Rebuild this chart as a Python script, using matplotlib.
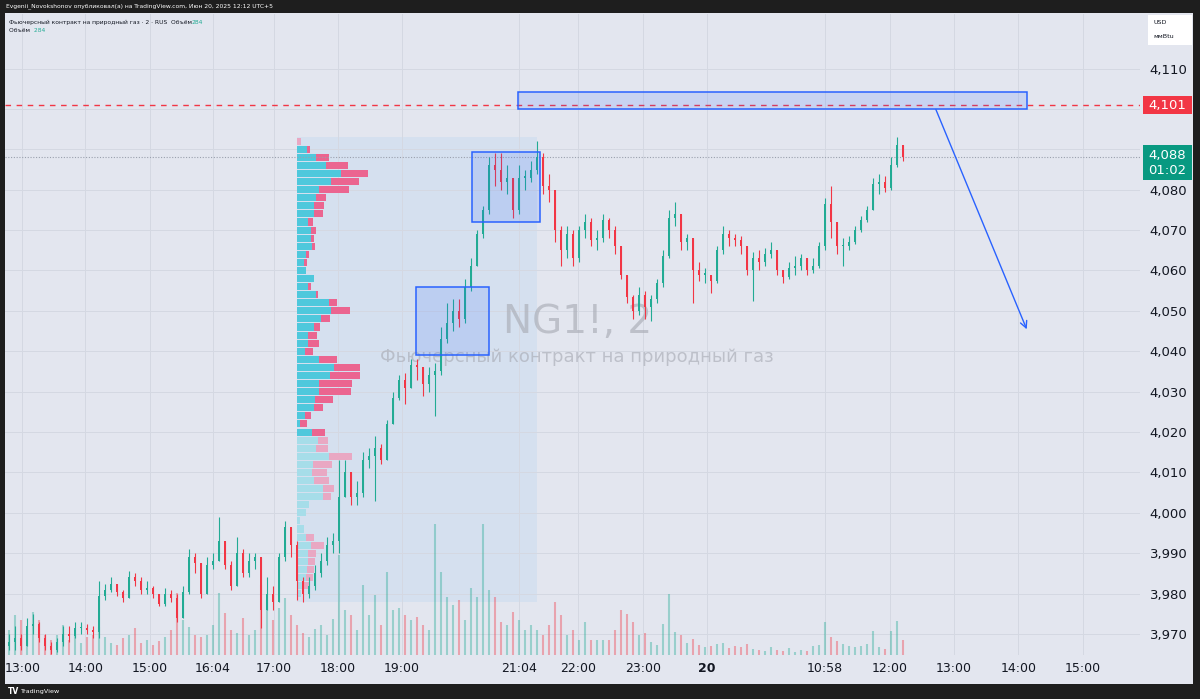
import numpy as np
import matplotlib
matplotlib.use('Agg')
import matplotlib.pyplot as plt
from matplotlib.patches import Rectangle, FancyArrowPatch

# 6-minute candles (open = previous close)
first_open = 3967
closes = [3968, 3969, 3967, 3972, 3972.5, 3969, 3967, 3966, 3968, 3970,
          3969.5, 3971.5, 3971.5, 3971, 3970.5, 3979.5, 3981, 3982.5, 3980.5, 3979,
          3984, 3983, 3981, 3981.5, 3980, 3977.5, 3980, 3979, 3974, 3980.5,
          3989, 3987.5, 3980, 3987, 3988, 3993, 3987, 3982, 3990, 3985,
          3988, 3989, 3976, 3980, 3978, 3989, 3996.5, 3992, 3983, 3980,
          3982, 3985, 3988, 3992, 3993, 4004, 4010, 4004, 4005, 4013,
          4014, 4016, 4013, 4022, 4028.5, 4033, 4031, 4036.5, 4036, 4032,
          4034, 4035, 4043, 4047, 4050, 4048, 4056, 4061, 4069, 4075,
          4086, 4085, 4082, 4083, 4075, 4083, 4083, 4085, 4088, 4081,
          4080, 4070, 4065, 4069, 4063, 4070, 4072, 4067.5, 4068, 4072.5,
          4070, 4066, 4059, 4053.5, 4050, 4054, 4051, 4053, 4057, 4063.5,
          4073, 4074, 4067, 4068, 4060, 4059, 4059, 4057.5, 4065, 4069,
          4068, 4067.5, 4066, 4060, 4063, 4062, 4064, 4065, 4060, 4058.5,
          4060.5, 4061, 4063, 4060, 4061, 4066, 4076.5, 4072, 4066, 4066,
          4067, 4070, 4072.5, 4075, 4081.5, 4082, 4080.5, 4086, 4091, 4088]
highs = [3970, 3972, 3970, 3974, 3975, 3973, 3970, 3968, 3969, 3972,
         3972, 3973, 3973, 3972.5, 3972, 3983, 3982.5, 3984, 3982.5, 3981,
         3985.5, 3985, 3984, 3983, 3982, 3980, 3981.5, 3981, 3980, 3982,
         3991, 3990, 3987, 3989, 3990, 3999, 3993, 3988, 3994, 3991,
         3990, 3990, 3989, 3984, 3982, 3990, 3998, 3996, 3993, 3984,
         3984, 3987, 3990, 3994, 3995, 4013, 4013, 4010, 4008, 4015,
         4016, 4019, 4017, 4023, 4030, 4034, 4034.5, 4038, 4038, 4036,
         4036, 4037, 4046, 4052, 4053, 4053, 4058, 4063, 4070, 4076,
         4088, 4089, 4089, 4086, 4083, 4086, 4085, 4087, 4092, 4089,
         4084, 4080, 4071, 4071, 4070, 4071, 4074, 4073, 4070, 4074,
         4073, 4071, 4066, 4059, 4054, 4056, 4055, 4054, 4058, 4065,
         4075, 4077, 4074, 4069, 4067, 4062, 4060.5, 4059, 4066, 4071,
         4070, 4069, 4068.5, 4066, 4064.5, 4065, 4065.5, 4067, 4065, 4060,
         4062, 4063.5, 4064, 4063, 4063, 4067, 4078, 4081, 4072, 4068,
         4068.5, 4071, 4073.5, 4076, 4083, 4084, 4083.5, 4088, 4093, 4091]
lows = [3966, 3966, 3966, 3967, 3970, 3968, 3966, 3965, 3965.5, 3967,
        3968, 3969, 3970, 3970, 3969, 3969, 3978.5, 3980.5, 3979.5, 3978,
        3979, 3982, 3980, 3980, 3979, 3977, 3977, 3978, 3973, 3974,
        3980, 3985, 3979, 3980, 3986, 3988, 3986, 3981, 3982, 3984,
        3984, 3986, 3971.5, 3976, 3976, 3978, 3988, 3989, 3978.5, 3978,
        3979, 3981, 3984, 3987, 3990, 3990, 4005, 4002, 4002, 4004,
        4011, 4003, 4012, 4013, 4022, 4028, 4027, 4031, 4033, 4029,
        4030, 4024, 4034, 4042, 4045, 4046, 4047, 4055, 4061, 4068,
        4074, 4081, 4080, 4079, 4073, 4074, 4080, 4082, 4084, 4079,
        4077, 4067, 4061, 4063, 4061, 4062, 4068, 4066, 4065, 4067,
        4068, 4064, 4058, 4052, 4048, 4049, 4048, 4047.5, 4052, 4056,
        4063, 4071, 4065, 4065, 4052, 4057.5, 4057, 4054.5, 4057, 4064,
        4066, 4066, 4064, 4059, 4052.5, 4060, 4061, 4063, 4059, 4057,
        4058, 4059, 4060, 4059, 4059.5, 4060.5, 4065, 4068, 4064, 4061,
        4065, 4066.5, 4069.5, 4072, 4075, 4079, 4079.5, 4080, 4085.5, 4087]
volumes = [25, 40, 35, 25, 43, 35, 20, 15, 20, 30,
           15, 20, 12, 18, 20, 28, 18, 12, 10, 17,
           20, 27, 12, 15, 10, 14, 18, 25, 62, 35,
           28, 20, 18, 20, 30, 62, 42, 25, 22, 37,
           20, 25, 70, 55, 35, 47, 57, 40, 30, 22,
           18, 26, 30, 20, 36, 100, 45, 40, 25, 70,
           40, 60, 30, 83, 45, 47, 40, 35, 38, 30,
           25, 131, 83, 58, 50, 55, 35, 67, 58, 131,
           65, 58, 33, 30, 43, 35, 25, 30, 25, 20,
           30, 53, 40, 20, 25, 15, 33, 15, 15, 15,
           15, 25, 45, 41, 33, 20, 22, 13, 10, 31,
           61, 23, 20, 12, 16, 10, 8, 9, 11, 12,
           7, 9, 8, 11, 6, 5, 4, 8, 5, 4,
           7, 3, 5, 4, 9, 10, 33, 18, 14, 11,
           9, 8, 9, 11, 24, 8, 6, 24, 34, 15]

# fixed range volume profile, rows of 2 points, listed from top (4092) to bottom (3980)
profile_up = [0, 10, 19, 29, 44, 34, 22, 19, 17, 17, 11, 14, 14, 15, 9, 7, 9, 17, 11, 19, 32, 34, 24,
              17, 11, 11, 8, 22, 37, 33, 22, 22, 18, 17, 8, 3, 15,
              21, 19, 32, 16, 15, 17, 26, 26, 12, 9, 3, 7, 9, 14, 11, 11, 10, 9, 7, 4]
profile_down = [4, 3, 13, 22, 27, 28, 30, 10, 10, 9, 5, 5, 3, 3, 3, 3, 0, 0, 3, 2, 8, 19, 9,
                6, 9, 11, 8, 18, 26, 30, 33, 32, 18, 9, 6, 7, 13,
                10, 12, 23, 19, 15, 15, 11, 8, 0, 0, 0, 0, 8, 13, 8, 7, 7, 7, 6, 0]
profile_top = 4092
profile_step = 2
value_area = (4020, 4090)
profile_bars = (48, 88)

# time axis labels (candle index positions)
tick_pos = [2.2, 12.7, 23.5, 34, 44.2, 54.8, 65.5, 85, 94.8, 105.7, 116.3, 136, 146.8, 157.5, 168.2, 179]
tick_labels = ['13:00', '14:00', '15:00', '16:04', '17:00', '18:00', '19:00', '21:04', '22:00',
               '23:00', '20', '10:58', '12:00', '13:00', '14:00', '15:00']
price_ticks = list(range(3970, 4111, 10))

# drawings on the chart
zones = [(67.8, 80.0, 4039.1, 4055.9), (77.2, 88.5, 4072.0, 4089.3), (84.8, 169.7, 4100.1, 4104.2)]
arrow = ((154.3, 4100.5), (169.8, 4044.8))
resistance = 4101
last_price = 4088

BG = '#e3e6ef'
DARK = '#1e1e1e'
UP = '#22ab94'
DOWN = '#f23645'
BLUE = '#2962ff'

W, H = 1200, 699
fig = plt.figure(figsize=(12, 6.99), dpi=100, facecolor=BG)

def fx(x):
    return x / W

def fy(y):
    return 1 - y / H

ax = fig.add_axes([fx(5), fy(655), fx(1135), 641 / H])
ax.set_facecolor(BG)

n = len(closes)
idx = np.arange(n)
opens = np.array([first_open] + closes[:-1], dtype=float)
c = np.array(closes, dtype=float)
hi = np.maximum(np.array(highs, dtype=float), np.maximum(opens, c))
lo = np.minimum(np.array(lows, dtype=float), np.minimum(opens, c))
up = c >= opens
cols = np.where(up, UP, DOWN)

# volume histogram at the bottom
vol = np.array(volumes, dtype=float)
vol_top = vol.max() / 0.205
ax.vlines(idx, 0, vol / vol_top, transform=ax.get_xaxis_transform(),
          colors=cols, alpha=0.38, linewidth=1.5, zorder=1)

# profile range shading and histogram
ax.add_patch(Rectangle((profile_bars[0], 3978), profile_bars[1] - profile_bars[0], 4093 - 3978,
                       facecolor=(0.13, 0.59, 0.95, 0.07), edgecolor='none', zorder=0.5))
levels = profile_top - profile_step * np.arange(len(profile_up))
pu = np.array(profile_up, dtype=float)
pd_ = np.array(profile_down, dtype=float)
scale = 11.8 / (pu + pd_).max()
in_va = (levels >= value_area[0]) & (levels <= value_area[1])
up_col = np.where(in_va, '#4fc8dc', '#a6dde9')
dn_col = np.where(in_va, '#eb6590', '#e9a8c3')
ax.barh(levels, pu * scale, left=profile_bars[0], height=1.75, color=up_col, zorder=2)
ax.barh(levels, pd_ * scale, left=profile_bars[0] + pu * scale, height=1.75, color=dn_col, zorder=2)

# watermark
ax.text(94.7, 4047.2, 'NG1!, 2', fontsize=28, color='#a9acb6', alpha=0.65,
        ha='center', va='center', zorder=0.6)
ax.text(94.7, 4038.6, 'Фьючерсный контракт на природный газ', fontsize=13, color='#a9acb6',
        alpha=0.65, ha='center', va='center', zorder=0.6)

# candles
ax.vlines(idx, lo, hi, colors=cols, linewidth=0.8, zorder=3)
body_h = np.maximum(np.abs(c - opens), 0.3)
ax.bar(idx, body_h, bottom=np.minimum(opens, c), width=0.42, color=cols, zorder=3)

# lines and drawings
ax.axhline(resistance, color=DOWN, linestyle=(0, (4, 4)), linewidth=1, zorder=4)
ax.axhline(last_price, color='#9aa0ad', linestyle=(0, (1, 1.5)), linewidth=0.8, zorder=2.5)
for x0, x1, y0, y1 in zones:
    ax.add_patch(Rectangle((x0, y0), x1 - x0, y1 - y0, facecolor=(0.16, 0.38, 1, 0.14),
                           edgecolor=BLUE, linewidth=1.1, zorder=5))
ax.add_patch(FancyArrowPatch(arrow[0], arrow[1], arrowstyle='->', mutation_scale=12,
                             color=BLUE, linewidth=1, zorder=5))

# axes (labels under the price tags are hidden, as in the chart)
ax.set_xlim(-0.67, 188.5)
ax.set_ylim(3964.8, 4123.5)
ax.set_xticks(tick_pos)
ax.set_xticklabels(tick_labels)
ax.set_yticks(price_ticks)
ax.set_yticklabels(['' if p in (4090, 4100) else f'{p:,}' for p in price_ticks])
ax.yaxis.tick_right()
ax.tick_params(axis='y', length=0, pad=7, labelsize=9.5, labelcolor='#131722')
ax.tick_params(axis='x', length=0, pad=5, labelsize=9, labelcolor='#131722')
ax.get_xticklabels()[10].set_fontweight('bold')
ax.grid(color='#d4d8e2', linewidth=0.7, zorder=0)
ax.set_axisbelow(True)
for s in ax.spines.values():
    s.set_visible(False)

# frame
for x, y, w, h in [(0, 0, W, 13), (0, 684, W, 15), (0, 0, 5, H), (1193, 0, 7, H)]:
    fig.patches.append(Rectangle((fx(x), fy(y + h)), fx(w), h / H, transform=fig.transFigure,
                                 facecolor=DARK, edgecolor='none', zorder=5))

fs = 4.3
fig.text(fx(6), fy(6.5), 'Evgenii_Novokshonov опубликовал(а) на TradingView.com, Июн 20, 2025 12:12 UTC+5',
         color='white', fontsize=fs, va='center', zorder=6)
t1 = fig.text(fx(9), fy(22), 'Фьючерсный контракт на природный газ · 2 · RUS  Объём',
              color='#131722', fontsize=fs, va='center', zorder=6)
ax.annotate('284', xy=(1, 0.5), xycoords=t1, va='center', ha='left', color='#22ab94', fontsize=fs)
t2 = fig.text(fx(9), fy(31), 'Объём ', color='#131722', fontsize=fs, va='center', zorder=6)
ax.annotate(' 284', xy=(1, 0.5), xycoords=t2, va='center', ha='left', color='#22ab94', fontsize=fs)
fig.text(fx(8), fy(691.5), 'TV', color='white', fontsize=5.5, fontweight='bold', va='center', zorder=6)
fig.text(fx(20), fy(691.5), 'TradingView', color='white', fontsize=4.6, va='center', zorder=6)

# price axis tags
fig.patches.append(Rectangle((fx(1148), fy(45)), fx(44), 30 / H, transform=fig.transFigure,
                             facecolor='white', edgecolor='none', zorder=5))
fig.text(fx(1153), fy(23), 'USD', color='#131722', fontsize=4.6, va='center', zorder=6)
fig.text(fx(1153), fy(36), 'ммBtu', color='#131722', fontsize=4.6, va='center', zorder=6)
fig.patches.append(Rectangle((fx(1143), fy(114)), fx(49), 18 / H, transform=fig.transFigure,
                             facecolor=DOWN, edgecolor='none', zorder=5))
fig.text(fx(1167.5), fy(105), f'{resistance:,}', color='white', fontsize=9.5,
         ha='center', va='center', zorder=6)
fig.patches.append(Rectangle((fx(1143), fy(180)), fx(49), 35 / H, transform=fig.transFigure,
                             facecolor='#089981', edgecolor='none', zorder=5))
fig.text(fx(1167.5), fy(155), f'{last_price:,}', color='white', fontsize=9.5,
         ha='center', va='center', zorder=6)
fig.text(fx(1167.5), fy(171), '01:02', color='white', fontsize=9.5, ha='center', va='center', zorder=6)

fig.savefig('out.png', dpi=100, facecolor=BG)
